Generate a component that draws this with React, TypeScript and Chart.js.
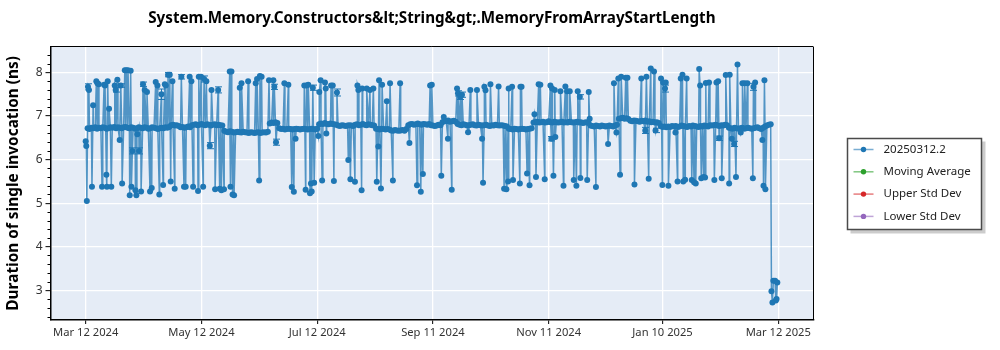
import { useEffect, useRef } from 'react';
import { Chart, registerables } from 'chart.js';

Chart.register(...registerables);

const FONT = '"Noto Sans", "Open Sans", sans-serif';

const chartTitle = 'System.Memory.Constructors&lt;String&gt;.MemoryFromArrayStartLength';
const yAxisTitle = 'Duration of single invocation (ns)';

const seriesNames = ['20250312.2', 'Moving Average', 'Upper Std Dev', 'Lower Std Dev'];
const seriesColors = ['#1f77b4', '#2ca02c', '#d62728', '#9467bd'];

// day 0 of the series
const startDate = '2024-03-12';
const xTickDates = ['2024-03-12', '2024-05-12', '2024-07-12', '2024-09-11', '2024-11-11', '2025-01-10', '2025-03-12'];
const yTickValues = [3, 4, 5, 6, 7, 8];
const xRangeDays = [-18.55, 383.45];
const yRange = [2.32, 8.59];

// typical daily run (ns), one value per day from startDate
const baselineByDay = [
  6.42, 6.72, 6.70, 6.73, 6.72, 6.74, 6.71, 6.73, 6.72, 6.74,
  6.73, 6.71, 6.72, 6.74, 6.73, 6.75, 6.72, 6.74, 6.73, 6.72,
  6.74, 6.75, 6.73, 6.72, 6.74, 6.73, 6.71, 6.72, 6.74, 6.73,
  6.72, 6.74, 6.73, 6.71, 6.72, 6.74, 6.73, 6.72, 6.70, 6.72,
  6.73, 6.72, 6.74, 6.73, 6.75, 6.79, 6.80, 6.78, 6.79, 6.77,
  6.74, 6.75, 6.73, 6.74, 6.76, 6.74, 6.79, 6.80, 6.81, 6.79,
  6.80, 6.82, 6.80, 6.79, 6.81, 6.80, 6.78, 6.80, 6.81, 6.79,
  6.80, 6.79, 6.78, 6.66, 6.64, 6.63, 6.65, 6.64, 6.62, 6.63,
  6.64, 6.63, 6.62, 6.64, 6.63, 6.62, 6.61, 6.63, 6.62, 6.61,
  6.62, 6.63, 6.61, 6.62, 6.63, 6.62, 6.64, 6.83, 6.85, 6.84,
  6.86, 6.84, 6.72, 6.70, 6.71, 6.69, 6.70, 6.71, 6.70, 6.69,
  6.70, 6.71, 6.70, 6.69, 6.70, 6.71, 6.70, 6.69, 6.70, 6.71,
  6.70, 6.69, 6.71, 6.81, 6.83, 6.82, 6.84, 6.82, 6.81, 6.83,
  6.82, 6.81, 6.80, 6.78, 6.77, 6.79, 6.78, 6.77, 6.78, 6.79,
  6.78, 6.77, 6.80, 6.81, 6.79, 6.80, 6.82, 6.80, 6.79, 6.81,
  6.80, 6.79, 6.78, 6.71, 6.70, 6.69, 6.71, 6.70, 6.69, 6.70,
  6.69, 6.67, 6.66, 6.68, 6.67, 6.66, 6.67, 6.68, 6.66, 6.70,
  6.79, 6.81, 6.82, 6.80, 6.81, 6.83, 6.81, 6.80, 6.82, 6.81,
  6.80, 6.82, 6.79, 6.78, 6.77, 6.78, 6.80, 6.79, 6.86, 6.89,
  6.88, 6.90, 6.87, 6.88, 6.89, 6.87, 6.82, 6.80, 6.79, 6.81,
  6.80, 6.78, 6.79, 6.80, 6.81, 6.79, 6.78, 6.80, 6.79, 6.78,
  6.79, 6.80, 6.78, 6.77, 6.79, 6.78, 6.80, 6.79, 6.78, 6.79,
  6.78, 6.77, 6.76, 6.71, 6.70, 6.69, 6.71, 6.70, 6.69, 6.70,
  6.71, 6.70, 6.69, 6.70, 6.71, 6.72, 6.85, 6.86, 6.87, 6.85,
  6.86, 6.87, 6.85, 6.86, 6.88, 6.86, 6.85, 6.87, 6.86, 6.85,
  6.86, 6.87, 6.85, 6.86, 6.85, 6.87, 6.86, 6.85, 6.86, 6.87,
  6.85, 6.86, 6.84, 6.85, 6.86, 6.84, 6.78, 6.77, 6.76, 6.78,
  6.77, 6.76, 6.78, 6.77, 6.76, 6.77, 6.78, 6.77, 6.76, 6.78,
  6.80, 6.94, 6.95, 6.96, 6.94, 6.95, 6.93, 6.89, 6.88, 6.90,
  6.89, 6.88, 6.87, 6.89, 6.88, 6.90, 6.87, 6.88, 6.86, 6.87,
  6.85, 6.86, 6.84, 6.77, 6.75, 6.76, 6.74, 6.76, 6.75, 6.77,
  6.76, 6.77, 6.75, 6.76, 6.78, 6.77, 6.76, 6.75, 6.77, 6.76,
  6.78, 6.77, 6.76, 6.75, 6.77, 6.76, 6.78, 6.77, 6.76, 6.79,
  6.78, 6.79, 6.80, 6.78, 6.77, 6.79, 6.78, 6.80, 6.79, 6.73,
  6.72, 6.71, 6.73, 6.72, 6.71, 6.72, 6.73, 6.71, 6.72, 6.73,
  6.72, 6.71, 6.72, 6.73, 6.74, 6.72, 6.70, 6.73, 6.76, 6.78,
  6.80, 6.81,
];

// extra runs between the daily points: [day offset, ns]
const excursions: [number, number][] = [
  [0.3, 6.31], [0.6, 5.05], [1.2, 7.67], [1.7, 7.60], [3.3, 5.38], [3.9, 7.25], [5.6, 7.80], [6.2, 7.75],
  [6.9, 7.73], [8.6, 5.38], [9.7, 7.72], [10.2, 7.70], [10.9, 5.65], [11.2, 5.38], [11.6, 7.80], [12.3, 7.17],
  [13.5, 5.38], [15.3, 7.70], [15.8, 7.60], [16.7, 7.83], [17.9, 6.45], [18.5, 7.70], [19.2, 5.45], [20.6, 8.05],
  [21.4, 8.05], [22.3, 8.05], [23.2, 5.18], [23.7, 8.04], [24.1, 5.38], [24.6, 6.20], [26.2, 5.30], [26.7, 5.18],
  [27.2, 6.58], [28.1, 6.20], [29.2, 5.27], [30.2, 7.73], [31.1, 7.60], [32.3, 7.55], [33.9, 5.27], [34.8, 5.35],
  [36.9, 7.78], [37.8, 7.70], [38.8, 5.20], [39.9, 7.50], [40.8, 5.42], [41.7, 7.73], [42.2, 7.70], [43.4, 7.95],
  [44.3, 7.95], [44.8, 5.50], [45.7, 7.80], [46.9, 5.33], [50.4, 7.90], [51.8, 5.38], [52.7, 5.38], [54.8, 7.90],
  [55.7, 7.80], [56.6, 5.38], [59.2, 5.28], [59.6, 7.90], [60.8, 7.90], [61.9, 5.38], [62.4, 7.85], [63.6, 7.80],
  [65.4, 6.32], [66.3, 7.60], [68.2, 5.32], [69.8, 7.60], [70.6, 5.33], [71.5, 5.30], [72.9, 5.32], [75.9, 8.02],
  [76.3, 5.38], [76.8, 8.02], [77.4, 5.20], [78.2, 5.18], [81.2, 7.65], [82.1, 7.75], [85.6, 7.80], [89.6, 7.75],
  [90.3, 7.85], [91.4, 5.52], [91.8, 7.92], [92.7, 7.90], [96.6, 7.82], [98.9, 7.82], [99.4, 7.67], [100.3, 6.40],
  [104.7, 7.75], [106.8, 7.72], [108.6, 5.37], [109.7, 5.26], [110.6, 6.48], [115.2, 7.70], [115.9, 5.31], [116.4, 7.70],
  [117.3, 7.72], [118.2, 5.23], [118.7, 5.45], [119.1, 5.27], [119.7, 7.65], [120.4, 5.47], [122.6, 6.54], [123.1, 7.55],
  [123.8, 7.82], [124.6, 5.52], [126.1, 7.77], [126.5, 7.63], [126.8, 6.60], [129.3, 7.70], [130.2, 7.70], [130.8, 5.51],
  [132.4, 7.54], [138.4, 5.99], [139.5, 5.55], [141.9, 5.49], [143.2, 7.70], [143.7, 7.60], [145.4, 5.30], [145.7, 7.63],
  [148.1, 7.63], [149.8, 7.60], [151.6, 7.63], [153.4, 5.49], [154.2, 6.30], [154.6, 7.82], [155.6, 5.34], [156.2, 7.72],
  [158.7, 7.34], [160.4, 7.75], [161.9, 5.52], [165.7, 7.75], [170.6, 6.38], [174.6, 5.41], [176.6, 5.26], [177.7, 5.67],
  [181.5, 7.70], [182.4, 7.72], [187.4, 5.63], [188.7, 6.98], [190.9, 6.48], [192.9, 5.31], [195.7, 7.63], [196.2, 7.52],
  [197.4, 7.44], [198.3, 7.49], [201.5, 6.63], [202.7, 7.60], [206.2, 7.60], [208.9, 6.48], [209.4, 5.47], [210.1, 7.67],
  [210.7, 7.59], [213.3, 7.73], [217.6, 7.68], [220.5, 5.33], [221.7, 5.32], [222.6, 5.50], [222.9, 7.63], [224.7, 7.67],
  [225.2, 5.53], [228.8, 5.45], [229.1, 7.67], [229.7, 7.67], [232.6, 5.68], [233.9, 5.41], [236.5, 7.04], [237.3, 5.60],
  [238.7, 7.73], [239.6, 7.72], [241.9, 5.55], [244.9, 7.70], [245.4, 6.48], [245.8, 7.63], [246.5, 5.63], [247.2, 7.60],
  [247.5, 6.52], [250.2, 7.57], [251.8, 5.40], [252.8, 7.68], [253.7, 7.57], [255.1, 7.57], [257.2, 5.53], [258.6, 5.40],
  [259.3, 7.57], [260.4, 7.44], [260.7, 5.58], [264.3, 5.53], [265.1, 7.55], [265.6, 6.94], [268.9, 5.37], [275.3, 6.36],
  [278.4, 7.75], [279.7, 6.62], [280.7, 7.86], [281.6, 5.65], [282.2, 7.90], [284.6, 7.88], [285.5, 7.88], [289.2, 5.43],
  [292.8, 7.86], [294.9, 6.67], [295.5, 7.90], [296.7, 5.56], [297.8, 8.09], [299.5, 8.02], [300.3, 6.67], [303.2, 7.86],
  [303.9, 5.42], [304.3, 7.77], [305.3, 7.63], [305.7, 7.77], [307.1, 5.40], [310.8, 6.62], [311.9, 5.50], [313.6, 7.86],
  [314.5, 7.95], [314.9, 5.50], [315.9, 5.54], [316.7, 7.86], [319.4, 5.53], [320.6, 5.48], [321.5, 5.45], [323.3, 8.08],
  [323.8, 7.70], [324.4, 5.57], [325.6, 5.60], [326.4, 5.59], [326.8, 7.76], [328.5, 7.77], [331.3, 5.53], [332.4, 7.77],
  [333.3, 7.80], [333.8, 6.49], [335.2, 5.57], [337.3, 7.94], [339.1, 5.45], [339.4, 7.95], [340.5, 6.48], [341.7, 6.36],
  [342.7, 5.60], [343.5, 8.18], [345.2, 6.62], [346.1, 7.75], [347.3, 7.75], [348.7, 7.75], [351.6, 5.57], [351.9, 7.67],
  [352.8, 7.77], [356.6, 6.45], [357.2, 5.40], [357.7, 7.82], [358.2, 5.32], [361.4, 2.98], [361.9, 2.72], [362.4, 3.22],
  [363.3, 3.22], [363.7, 2.77], [364.1, 2.80], [364.5, 3.18],
];

// [day offset, ns, half-height of the error bar]
const errorBars: [number, number, number][] = [
  [1.2, 7.67, 0.07], [15.8, 7.60, 0.05], [18.5, 7.70, 0.04], [24.6, 6.20, 0.07], [28.1, 6.20, 0.07],
  [30.2, 7.73, 0.05], [39.9, 7.50, 0.12], [43.4, 7.95, 0.05], [50.4, 7.90, 0.05], [62.4, 7.85, 0.07],
  [65.4, 6.32, 0.07], [69.8, 7.60, 0.07], [99.4, 7.67, 0.06], [100.3, 6.40, 0.07], [119.7, 7.65, 0.06],
  [132.4, 7.54, 0.08], [196.2, 7.52, 0.06], [197.4, 7.44, 0.06], [198.3, 7.49, 0.06], [245.4, 6.48, 0.05],
  [260.4, 7.44, 0.05], [294.9, 6.67, 0.07], [300.3, 6.67, 0.05], [305.3, 7.63, 0.08], [333.8, 6.49, 0.05],
  [341.7, 6.36, 0.06], [351.9, 7.67, 0.08],
];

const movingAverage: { x: number; y: number }[] = [];
const upperStdDev: { x: number; y: number }[] = [];
const lowerStdDev: { x: number; y: number }[] = [];

const MONTHS = ['Jan', 'Feb', 'Mar', 'Apr', 'May', 'Jun', 'Jul', 'Aug', 'Sep', 'Oct', 'Nov', 'Dec'];

function parseIso(iso: string) {
  const [y, m, d] = iso.split('-').map(Number);
  return { y, m, d };
}
function dayOf(iso: string) {
  const a = parseIso(iso);
  const b = parseIso(startDate);
  return Math.round((Date.UTC(a.y, a.m - 1, a.d) - Date.UTC(b.y, b.m - 1, b.d)) / 86400000);
}
function formatDate(iso: string) {
  const { y, m, d } = parseIso(iso);
  return `${MONTHS[m - 1]} ${d} ${y}`;
}
function rgba(hex: string, a: number) {
  const n = parseInt(hex.slice(1), 16);
  return `rgba(${(n >> 16) & 255}, ${(n >> 8) & 255}, ${n & 255}, ${a})`;
}

export default function App() {
  const canvasRef = useRef<HTMLCanvasElement>(null);

  useEffect(() => {
    const canvas = canvasRef.current;
    if (!canvas) return;

    Chart.defaults.font.family = FONT;

    const points = [
      ...baselineByDay.map((v, i) => ({ x: i, y: v })),
      ...excursions.map(([d, v]) => ({ x: d, y: v })),
    ].sort((a, b) => a.x - b.x);

    const xTicks = xTickDates.map((iso) => ({ day: dayOf(iso), label: formatDate(iso) }));

    const chromePlugin = {
      id: 'chrome',
      afterLayout(chart: any) {
        const t = chart.titleBlock;
        if (t) {
          t.left = chart.chartArea.left;
          t.right = chart.chartArea.right;
        }
      },
      beforeDraw(chart: any) {
        const { ctx, chartArea } = chart;
        ctx.save();
        ctx.fillStyle = '#E5ECF6';
        ctx.fillRect(chartArea.left, chartArea.top, chartArea.right - chartArea.left, chartArea.bottom - chartArea.top);
        ctx.restore();
      },
      afterDatasetsDraw(chart: any) {
        const { ctx, chartArea, scales } = chart;
        ctx.save();
        ctx.beginPath();
        ctx.rect(chartArea.left, chartArea.top, chartArea.right - chartArea.left, chartArea.bottom - chartArea.top);
        ctx.clip();
        ctx.strokeStyle = seriesColors[0];
        ctx.lineWidth = 1;
        for (const [d, v, e] of errorBars) {
          const px = Math.round(scales.x.getPixelForValue(d)) + 0.5;
          const y1 = scales.y.getPixelForValue(v + e);
          const y2 = scales.y.getPixelForValue(v - e);
          ctx.beginPath();
          ctx.moveTo(px, y1);
          ctx.lineTo(px, y2);
          ctx.moveTo(px - 3.5, y1);
          ctx.lineTo(px + 3.5, y1);
          ctx.moveTo(px - 3.5, y2);
          ctx.lineTo(px + 3.5, y2);
          ctx.stroke();
        }
        ctx.restore();
      },
      afterDraw(chart: any) {
        const { ctx, chartArea, scales } = chart;
        ctx.save();
        // top and right frame
        ctx.strokeStyle = '#000';
        ctx.lineWidth = 1;
        ctx.beginPath();
        ctx.moveTo(chartArea.left, Math.floor(chartArea.top) + 0.5);
        ctx.lineTo(chartArea.right, Math.floor(chartArea.top) + 0.5);
        ctx.moveTo(Math.floor(chartArea.right) + 0.5, chartArea.top);
        ctx.lineTo(Math.floor(chartArea.right) + 0.5, chartArea.bottom);
        ctx.stroke();
        // minor y ticks
        ctx.beginPath();
        for (let k = Math.ceil(yRange[0] * 5); k <= Math.floor(yRange[1] * 5); k++) {
          if (k % 5 === 0) continue;
          const py = Math.round(scales.y.getPixelForValue(k / 5)) + 0.5;
          ctx.moveTo(chartArea.left - 3, py);
          ctx.lineTo(chartArea.left, py);
        }
        ctx.stroke();

        // legend
        const items = chart.data.datasets;
        ctx.font = `11.5px ${FONT}`;
        const textW = Math.max(...items.map((d: any) => ctx.measureText(d.label).width));
        const rowH = 22.3;
        const bx = Math.round(chartArea.right + 34) + 0.5;
        const bw = Math.round(textW + 36 + 11);
        const bh = Math.round(items.length * rowH + 2);
        const by = Math.round((chartArea.top + chartArea.bottom) / 2 - bh / 2) + 0.5;
        ctx.fillStyle = 'rgba(0,0,0,0.2)';
        ctx.fillRect(bx + 3, by + 3, bw + 1, bh + 1);
        ctx.fillStyle = '#fff';
        ctx.fillRect(bx, by, bw, bh);
        ctx.strokeStyle = '#4a4a4a';
        ctx.lineWidth = 1.5;
        ctx.strokeRect(bx, by, bw, bh);
        items.forEach((d: any, i: number) => {
          const color = seriesColors[i];
          const cy = by + 11 + i * rowH;
          ctx.strokeStyle = rgba(color, 0.6);
          ctx.lineWidth = 1.5;
          ctx.beginPath();
          ctx.moveTo(bx + 6, cy);
          ctx.lineTo(bx + 26, cy);
          ctx.stroke();
          ctx.fillStyle = color;
          ctx.beginPath();
          ctx.arc(bx + 16, cy, 2.7, 0, Math.PI * 2);
          ctx.fill();
          ctx.fillStyle = '#222';
          ctx.textBaseline = 'middle';
          ctx.textAlign = 'left';
          ctx.fillText(d.label, bx + 36, cy);
        });
        ctx.restore();
      },
    };

    const chart = new Chart(canvas, {
      type: 'line',
      data: {
        datasets: [
          {
            label: seriesNames[0],
            data: points,
            borderColor: rgba(seriesColors[0], 0.75),
            backgroundColor: seriesColors[0],
            borderWidth: 1.5,
            pointRadius: 3,
            pointBackgroundColor: seriesColors[0],
            pointBorderColor: seriesColors[0],
            pointBorderWidth: 0,
            tension: 0,
          },
          { label: seriesNames[1], data: movingAverage, borderColor: seriesColors[1], backgroundColor: seriesColors[1] },
          { label: seriesNames[2], data: upperStdDev, borderColor: seriesColors[2], backgroundColor: seriesColors[2] },
          { label: seriesNames[3], data: lowerStdDev, borderColor: seriesColors[3], backgroundColor: seriesColors[3] },
        ],
      },
      options: {
        responsive: true,
        maintainAspectRatio: false,
        animation: false,
        events: [],
        layout: { padding: { left: 0, right: 186.7, top: 0, bottom: 0 } },
        plugins: {
          legend: { display: false },
          tooltip: { enabled: false },
          title: {
            display: true,
            text: chartTitle,
            color: '#000',
            font: { family: FONT, size: 15.2, weight: 'bold' },
            padding: { top: 10, bottom: 18.5 },
          },
        },
        scales: {
          x: {
            type: 'linear',
            min: xRangeDays[0],
            max: xRangeDays[1],
            afterBuildTicks: (scale: any) => {
              scale.ticks = xTicks.map((t) => ({ value: t.day }));
            },
            afterFit: (scale: any) => {
              scale.height = 30;
            },
            ticks: {
              autoSkip: false,
              maxRotation: 0,
              padding: 2,
              color: '#333',
              font: { family: FONT, size: 11.2 },
              callback: (value: any) => {
                const t = xTicks.find((k) => k.day === value);
                return t ? t.label : '';
              },
            },
            grid: { color: '#ffffff', lineWidth: 1.3, tickColor: '#000', tickLength: 4, tickWidth: 1 },
            border: { display: true, color: '#000', width: 1.5 },
          },
          y: {
            type: 'linear',
            min: yRange[0],
            max: yRange[1],
            afterBuildTicks: (scale: any) => {
              scale.ticks = yTickValues.map((v) => ({ value: v }));
            },
            afterFit: (scale: any) => {
              scale.width = 50.5;
            },
            ticks: {
              padding: 3,
              color: '#333',
              font: { family: FONT, size: 12 },
              callback: (value: any) => String(value),
            },
            grid: { color: '#ffffff', lineWidth: 1.3, tickColor: '#000', tickLength: 5, tickWidth: 1 },
            border: { display: true, color: '#000', width: 1.5 },
            title: {
              display: true,
              text: yAxisTitle,
              color: '#000',
              font: { family: FONT, size: 15.4, weight: 'bold' },
              padding: { top: 4, bottom: 0 },
            },
          },
        },
      },
      plugins: [chromePlugin],
    } as any);

    return () => chart.destroy();
  }, []);

  return (
    <div style={{ position: 'absolute', left: 0, top: 0, width: 1000, height: 350, background: '#fff' }}>
      <canvas ref={canvasRef} />
    </div>
  );
}
